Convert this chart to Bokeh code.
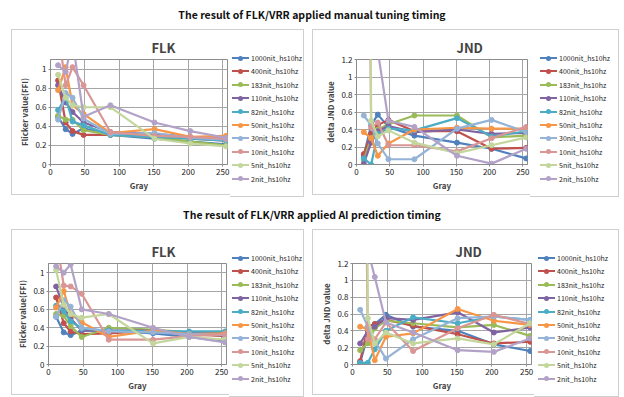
from bokeh.plotting import figure
from bokeh.models import Div, Range1d, FixedTicker, NumeralTickFormatter, Spacer
from bokeh.layouts import column, row
from bokeh.embed import file_html
from bokeh.resources import INLINE

FONT = "Noto Sans CJK KR"
BORDER = "1px solid #cfcfcf"

gray = [11, 22, 32, 48, 87, 151, 203, 255]
series_names = ["1000nit_hs10hz", "400nit_hs10hz", "183nit_hs10hz", "110nit_hs10hz",
                "82nit_hs10hz", "50nit_hs10hz", "30nit_hs10hz", "10nit_hs10hz",
                "5nit_hs10hz", "2nit_hs10hz"]
colors = ["#4F81BD", "#C0504D", "#9BBB59", "#8064A2", "#4BACC6",
          "#F79646", "#95B3D7", "#D99694", "#C3D69B", "#B3A2C7"]
x_ticks = [0, 50, 100, 150, 200, 250]
flk_ticks = [0, 0.2, 0.4, 0.6, 0.8, 1]
jnd_ticks = [0, 0.2, 0.4, 0.6, 0.8, 1, 1.2]

title_manual = "The result of FLK/VRR applied manual tuning timing"
title_ai = "The result of FLK/VRR applied AI prediction timing"

flk_manual = [
    [0.50, 0.37, 0.32, 0.38, 0.31, 0.27, 0.24, 0.21],
    [0.88, 0.44, 0.35, 0.31, 0.31, 0.30, 0.27, 0.25],
    [0.51, 0.47, 0.47, 0.36, 0.31, 0.29, 0.24, 0.20],
    [0.83, 0.65, 0.55, 0.44, 0.34, 0.32, 0.29, 0.27],
    [0.57, 0.70, 0.45, 0.41, 0.31, 0.29, 0.27, 0.25],
    [0.78, 1.02, 0.62, 0.53, 0.33, 0.37, 0.29, 0.30],
    [0.47, 0.75, 0.70, 0.48, 0.32, 0.33, 0.28, 0.26],
    [1.40, 0.83, 1.02, 0.83, 0.34, 0.30, 0.29, 0.27],
    [0.94, 0.70, 0.62, 0.60, 0.60, 0.27, 0.22, 0.19],
    [1.04, 0.97, 1.30, 0.50, 0.62, 0.44, 0.35, 0.28],
]
jnd_manual = [
    [0.10, 0.45, 0.57, 0.43, 0.33, 0.25, 0.18, 0.07],
    [0.12, 0.35, 0.45, 0.51, 0.38, 0.38, 0.18, 0.19],
    [0.05, 0.30, 0.40, 0.46, 0.56, 0.56, 0.31, 0.33],
    [0.01, 0.25, 0.38, 0.44, 0.37, 0.40, 0.35, 0.36],
    [0.07, 0.00, 0.35, 0.41, 0.39, 0.53, 0.32, 0.38],
    [0.37, 0.30, 0.10, 0.24, 0.40, 0.42, 0.41, 0.41],
    [0.56, 0.45, 0.24, 0.06, 0.06, 0.41, 0.51, 0.37],
    [9.00, 0.42, 0.48, 0.22, 0.22, 0.15, 0.30, 0.43],
    [20.0, 0.50, 0.32, 0.39, 0.25, 0.13, 0.22, 0.31],
    [3.00, 2.00, 1.30, 0.50, 0.43, 0.10, 0.01, 0.18],
]
flk_ai = [
    [0.52, 0.35, 0.32, 0.37, 0.37, 0.34, 0.30, 0.25],
    [0.73, 0.45, 0.36, 0.33, 0.34, 0.37, 0.33, 0.31],
    [0.55, 0.53, 0.42, 0.30, 0.40, 0.38, 0.35, 0.35],
    [0.85, 0.62, 0.50, 0.37, 0.37, 0.37, 0.35, 0.35],
    [0.64, 0.58, 0.47, 0.39, 0.37, 0.36, 0.36, 0.36],
    [0.62, 0.80, 0.55, 0.46, 0.30, 0.37, 0.33, 0.34],
    [0.52, 0.70, 0.63, 0.40, 0.36, 0.35, 0.33, 0.32],
    [1.39, 0.86, 0.85, 0.77, 0.27, 0.27, 0.31, 0.33],
    [1.03, 0.65, 0.55, 0.51, 0.55, 0.23, 0.30, 0.27],
    [1.07, 1.00, 1.09, 0.60, 0.55, 0.40, 0.30, 0.24],
]
jnd_ai = [
    [0.02, 0.35, 0.48, 0.59, 0.45, 0.40, 0.24, 0.16],
    [0.04, 0.45, 0.48, 0.53, 0.46, 0.36, 0.25, 0.27],
    [0.17, 0.25, 0.43, 0.52, 0.49, 0.44, 0.47, 0.34],
    [0.25, 0.40, 0.45, 0.55, 0.53, 0.62, 0.38, 0.44],
    [0.02, 0.02, 0.18, 0.40, 0.56, 0.49, 0.57, 0.53],
    [0.45, 0.42, 0.05, 0.33, 0.37, 0.66, 0.52, 0.47],
    [0.65, 0.45, 0.28, 0.07, 0.30, 0.55, 0.57, 0.53],
    [8.00, 0.30, 0.30, 0.50, 0.16, 0.43, 0.59, 0.48],
    [20.0, 0.55, 0.25, 0.38, 0.25, 0.31, 0.24, 0.49],
    [2.00, 1.36, 1.04, 0.50, 0.38, 0.17, 0.15, 0.31],
]


def make_chart(name, ylabel, data, y_end, y_ticks, w, h, bl, bt, bb, title_off):
    p = figure(width=w, height=h, x_range=Range1d(0, 257), y_range=Range1d(0, y_end),
               output_backend="svg", toolbar_location=None,
               min_border_left=bl, min_border_right=4, min_border_top=bt, min_border_bottom=bb,
               background_fill_color="white", border_fill_color="white")
    p.styles = {"border": BORDER, "border-right": "none"}
    p.title.text = name
    p.title.align = "left"
    p.title.offset = title_off
    p.title.text_font = FONT
    p.title.text_font_size = "13px"
    p.title.text_font_style = "bold"
    p.title.standoff = 6
    p.outline_line_color = "#8c8c8c"

    p.xaxis.ticker = FixedTicker(ticks=x_ticks)
    p.yaxis.ticker = FixedTicker(ticks=y_ticks)
    p.yaxis.formatter = NumeralTickFormatter(format="0.[0]")
    for ax in (p.xaxis, p.yaxis):
        ax.axis_line_color = "#8c8c8c"
        ax.major_tick_line_color = "#8c8c8c"
        ax.major_tick_out = 2
        ax.major_tick_in = 0
        ax.minor_tick_line_color = None
        ax.major_label_text_font = FONT
        ax.major_label_text_font_size = "8px"
        ax.major_label_text_color = "#222222"
        ax.axis_label_text_font = FONT
        ax.axis_label_text_font_size = "8px"
        ax.axis_label_text_font_style = "bold"
        ax.axis_label_standoff = 2
        ax.major_label_standoff = 2
    p.xaxis.axis_label = "Gray"
    p.yaxis.axis_label = ylabel
    p.grid.grid_line_color = "#a6a6a6"
    p.grid.grid_line_width = 1

    for col, vals in zip(colors, data):
        p.line(gray, vals, line_color=col, line_width=2.2)
        p.scatter(gray, vals, marker="circle", size=5, fill_color=col, line_color=col)
    return p


def make_key(w, h, off):
    # HTML legend: sample line + marker + label for every series
    parts = []
    for i, (nm, col) in enumerate(zip(series_names, colors)):
        top = 28 + 13.4 * i - 6
        parts.append(
            f'<div style="position:absolute;left:{off}px;top:{top:.1f}px;height:12px;'
            f'display:flex;align-items:center;white-space:nowrap">'
            f'<span style="position:relative;display:inline-block;width:17px;height:2.2px;background:{col}">'
            f'<span style="position:absolute;left:6px;top:-1.4px;width:5px;height:5px;'
            f'border-radius:50%;background:{col}"></span></span>'
            f'<span style="margin-left:2px;font-size:7px;font-family:{FONT};color:#222">{nm}</span></div>')
    html = (f'<div style="position:relative;width:{w}px;height:{h}px;box-sizing:border-box;'
            f'border:{BORDER};border-left:none;background:white;overflow:hidden">' + "".join(parts) + '</div>')
    return Div(text=html, width=w, height=h, margin=0)


c1 = make_chart("FLK", "Flicker value(FFI)", flk_manual, 1.1, flk_ticks, 219, 166, 38, 28, 27, 101)
k1 = make_key(74, 168, 2)
c2 = make_chart("JND", "delta JND value", jnd_manual, 1.2, jnd_ticks, 218, 166, 43, 29, 32, 100)
k2 = make_key(89, 168, 10)
c3 = make_chart("FLK", "Flicker value(FFI)", flk_ai, 1.1, flk_ticks, 218, 166, 36, 27, 30, 103)
k3 = make_key(75, 168, 3)
c4 = make_chart("JND", "delta JND value", jnd_ai, 1.2, jnd_ticks, 222, 166, 39, 33, 32, 103)
k4 = make_key(85, 168, 4)


def header(txt, h, pad):
    return Div(text=f'<div style="width:624px;height:{h}px;box-sizing:border-box;text-align:center;'
                    f'font-weight:bold;font-size:10.5px;font-family:{FONT};line-height:14px;'
                    f'padding-top:{pad}px;color:#111">{txt}</div>',
               width=624, height=h, margin=0)


layout = column(header(title_manual, 29, 8),
                row(Spacer(width=11, height=168), c1, k1, Spacer(width=8, height=168), c2, k2, spacing=0),
                header(title_ai, 32, 11),
                row(Spacer(width=11, height=168), c3, k3, Spacer(width=8, height=168), c4, k4, spacing=0),
                spacing=0)

open("out.html", "w").write(file_html(layout, INLINE))
